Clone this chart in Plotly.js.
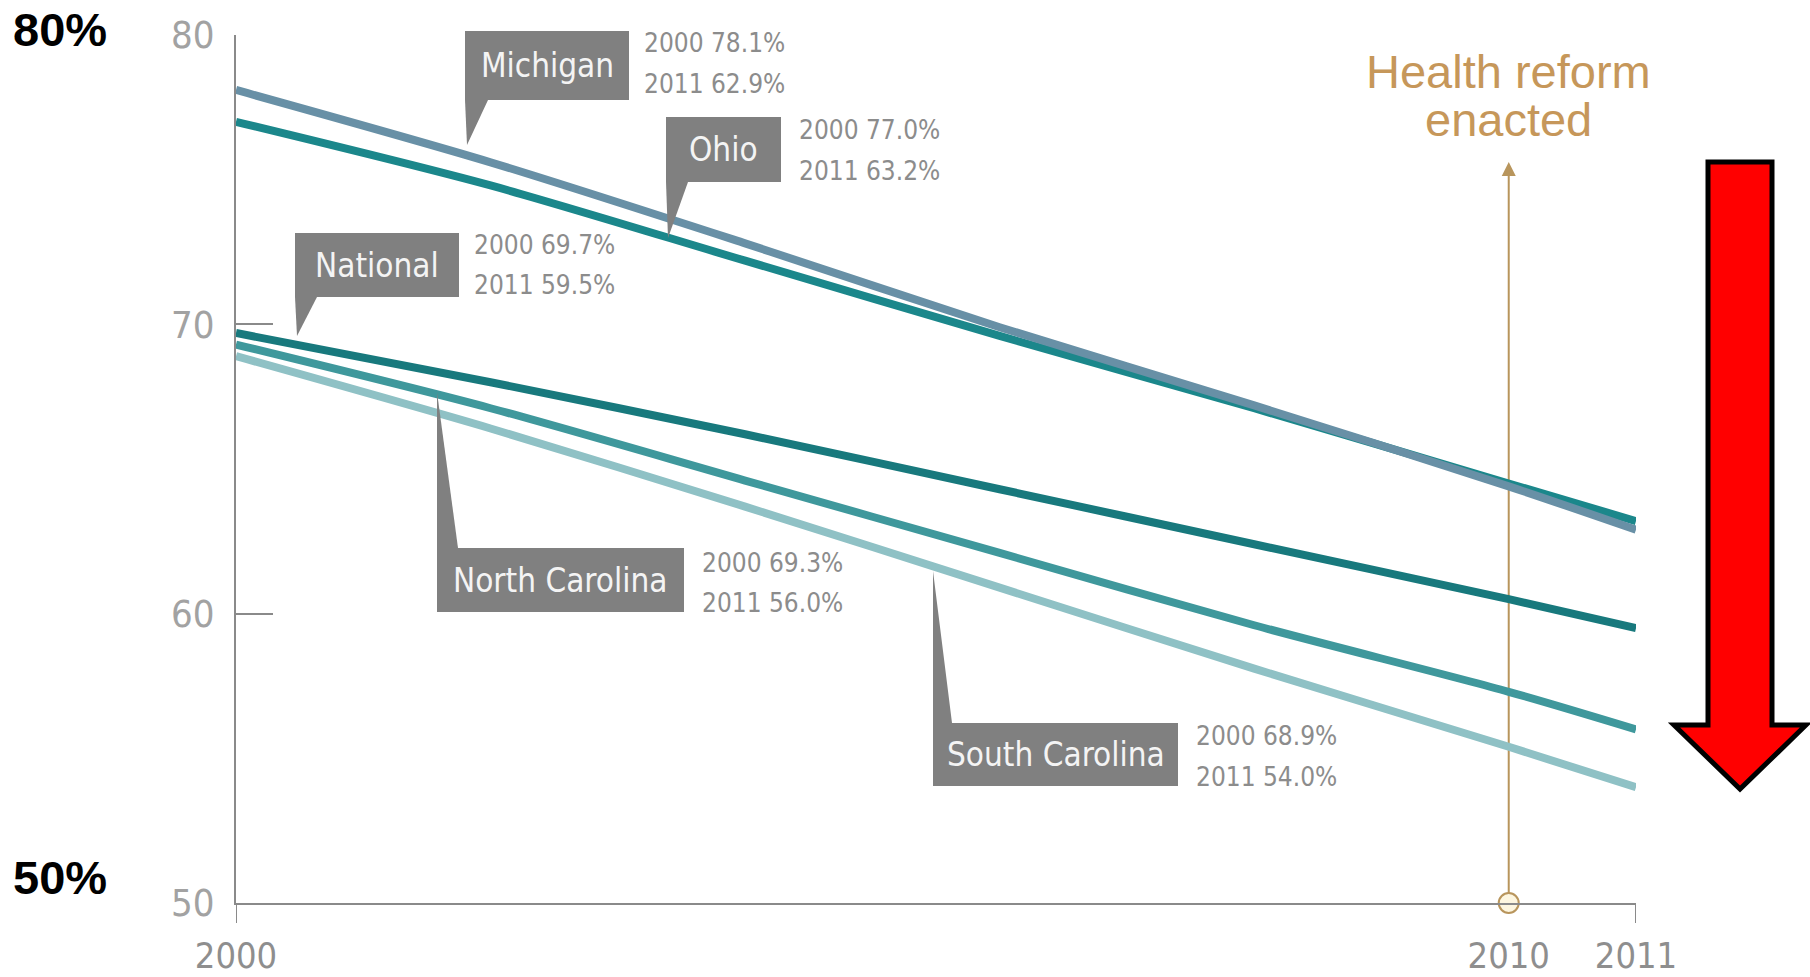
<!DOCTYPE html>
<html>
<head>
<meta charset="utf-8">
<script src="https://cdn.plot.ly/plotly-3.0.1.min.js"></script>
<style>
  html, body { margin: 0; padding: 0; background: #ffffff; }
  #chart { width: 1810px; height: 977px; }
</style>
</head>
<body>
<div id="chart"></div>
<script>
// ---------------- DATA ----------------
const years = [2000, 2002, 2004, 2006, 2008, 2010, 2011];
const seriesNames = ['Michigan', 'Ohio', 'National', 'North Carolina', 'South Carolina'];
const michigan      = [78.1, 75.6, 72.8, 69.9, 67.2, 64.4, 62.9];
const ohio          = [77.0, 74.8, 72.2, 69.6, 67.1, 64.5, 63.2];
const national      = [69.7, 68.0, 66.2, 64.3, 62.4, 60.5, 59.5];
const northCarolina = [69.3, 67.1, 64.6, 62.1, 59.6, 57.3, 56.0];
const southCarolina = [68.9, 66.4, 63.7, 60.9, 58.1, 55.4, 54.0];
const yTickVals = [50, 60, 70, 80];
const xTickVals = [2000, 2010, 2011];
const xTickText = ['2000', '2010', '2011'];
const reformYear = 2010;
const reformText = ['Health reform', 'enacted'];

// ---------------- LAYOUT HELPERS ----------------
const FW = 1810, FH = 977;
const M = { l: 236, r: 174, t: 35, b: 74 };
const PW = FW - M.l - M.r, PH = FH - M.t - M.b;
const px = x => (x - M.l) / PW;          // pixel -> paper x
const py = y => 1 - (y - M.t) / PH;      // pixel -> paper y

const NARROW = '"Liberation Sans Narrow", "DejaVu Sans Condensed", "Arial Narrow", sans-serif';
const SANS = '"Liberation Sans", Arial, sans-serif';

const seriesValues = [michigan, ohio, national, northCarolina, southCarolina];
const seriesColors = ['#6890a6', '#1b878b', '#18797d', '#3f989c', '#8fc1c5'];

// draw order: bottom first, Michigan on top
const drawOrder = [4, 3, 2, 1, 0];
const traces = drawOrder.map(i => ({
  type: 'scatter', mode: 'lines',
  x: years, y: seriesValues[i], name: seriesNames[i],
  line: { color: seriesColors[i], width: 8, shape: 'spline', smoothing: 0.8 },
  cliponaxis: false, hoverinfo: 'skip'
}));

// reform marker on the x axis
traces.push({
  type: 'scatter', mode: 'markers',
  x: [reformYear], y: [yTickVals[0]],
  marker: { size: 20, color: '#fdf6e0', line: { color: '#b8955c', width: 2 } },
  cliponaxis: false, hoverinfo: 'skip'
});

// callout boxes (pixel layout)
const callouts = [
  { s: 0, box: [465, 31, 629, 100], ptr: [[465, 100], [488, 100], [467, 145]], vx: 642, vy: [43, 84] },
  { s: 1, box: [666, 117, 781, 182], ptr: [[666, 182], [688, 182], [668, 238]], vx: 797, vy: [130, 171] },
  { s: 2, box: [295, 233, 459, 297], ptr: [[295, 297], [317, 297], [297, 336]], vx: 472, vy: [245, 285] },
  { s: 3, box: [437, 548, 684, 612], ptr: [[437, 548], [458, 548], [437, 392]], vx: 700, vy: [563, 603] },
  { s: 4, box: [933, 723, 1178, 786], ptr: [[933, 723], [952, 723], [933, 571]], vx: 1194, vy: [736, 777] }
];

const shapes = [];
const annotations = [];
const BOX = '#808080';

callouts.forEach(c => {
  const [x0, y0, x1, y1] = c.box;
  shapes.push({ type: 'rect', xref: 'paper', yref: 'paper',
    x0: px(x0), x1: px(x1), y0: py(y1), y1: py(y0),
    fillcolor: BOX, line: { width: 0 }, layer: 'above' });
  const p = c.ptr.map((q, k) => (k ? 'L' : 'M') + px(q[0]) + ',' + py(q[1])).join(' ') + ' Z';
  shapes.push({ type: 'path', xref: 'paper', yref: 'paper', path: p,
    fillcolor: BOX, line: { width: 0 }, layer: 'above' });
  annotations.push({ xref: 'paper', yref: 'paper', x: px((x0 + x1) / 2), y: py((y0 + y1) / 2),
    xanchor: 'center', yanchor: 'middle', showarrow: false,
    text: seriesNames[c.s], font: { family: NARROW, size: 33, color: '#f4f4f4' } });
  const vals = seriesValues[c.s];
  const n = years.length - 1;
  annotations.push({ xref: 'paper', yref: 'paper', x: px(c.vx), y: py(c.vy[0]),
    xanchor: 'left', yanchor: 'middle', showarrow: false,
    text: years[0] + ' ' + vals[0].toFixed(1) + '%', font: { family: NARROW, size: 26, color: '#8c8c8c' } });
  annotations.push({ xref: 'paper', yref: 'paper', x: px(c.vx), y: py(c.vy[1]),
    xanchor: 'left', yanchor: 'middle', showarrow: false,
    text: years[n] + ' ' + vals[n].toFixed(1) + '%', font: { family: NARROW, size: 26, color: '#8c8c8c' } });
});

// reform vertical line + arrowhead
const GOLD = '#b8955c';
shapes.push({ type: 'line', xref: 'x', yref: 'paper', x0: reformYear, x1: reformYear,
  y0: 0, y1: py(170), line: { color: GOLD, width: 2 }, layer: 'below' });
const ah = 7 / (PW / (xTickVals[2] - xTickVals[0]));
shapes.push({ type: 'path', xref: 'x', yref: 'paper',
  path: `M${reformYear - ah},${py(176)} L${reformYear},${py(162)} L${reformYear + ah},${py(176)} Z`,
  fillcolor: GOLD, line: { width: 0 } });
annotations.push({ xref: 'x', yref: 'paper', x: reformYear, y: py(71), showarrow: false,
  xanchor: 'center', yanchor: 'middle', text: reformText[0],
  font: { family: SANS, size: 47, color: '#c6975a' } });
annotations.push({ xref: 'x', yref: 'paper', x: reformYear, y: py(119), showarrow: false,
  xanchor: 'center', yanchor: 'middle', text: reformText[1],
  font: { family: SANS, size: 47, color: '#c6975a' } });

// small ticks below the x axis at first and last year
[xTickVals[0], xTickVals[2]].forEach(xv => {
  shapes.push({ type: 'line', xref: 'x', yref: 'paper', x0: xv, x1: xv,
    y0: 0, y1: py(923), line: { color: '#8a8a8a', width: 2 } });
});

// big red arrow
const arrowPts = [[1708, 162], [1772, 162], [1772, 725], [1806, 725], [1740, 789], [1674, 725], [1708, 725]];
shapes.push({ type: 'path', xref: 'paper', yref: 'paper',
  path: arrowPts.map((q, k) => (k ? 'L' : 'M') + px(q[0]) + ',' + py(q[1])).join(' ') + ' Z',
  fillcolor: '#ff0000', line: { color: '#000000', width: 5 } });

// 80% / 50% bold labels
annotations.push({ xref: 'paper', yref: 'paper', x: px(60), y: py(30), showarrow: false,
  xanchor: 'center', yanchor: 'middle', text: '<b>' + yTickVals[3] + '%</b>',
  font: { family: SANS, size: 47, color: '#000000' } });
annotations.push({ xref: 'paper', yref: 'paper', x: px(60), y: py(877), showarrow: false,
  xanchor: 'center', yanchor: 'middle', text: '<b>' + yTickVals[0] + '%</b>',
  font: { family: SANS, size: 47, color: '#000000' } });

const layout = {
  width: FW, height: FH,
  margin: M,
  paper_bgcolor: '#ffffff', plot_bgcolor: '#ffffff',
  showlegend: false,
  xaxis: {
    range: [xTickVals[0], xTickVals[2]],
    showgrid: false, zeroline: false,
    showline: true, linecolor: '#8a8a8a', linewidth: 2,
    tickvals: xTickVals, ticktext: xTickText, ticks: '',
    ticklabelstandoff: 20,
    tickfont: { family: NARROW, size: 36, color: '#8e8e8e' }
  },
  yaxis: {
    range: [yTickVals[0], yTickVals[3]],
    showgrid: false, zeroline: false,
    showline: true, linecolor: '#8a8a8a', linewidth: 2,
    tickvals: yTickVals, ticks: 'inside', ticklen: 37, tickwidth: 2, tickcolor: '#8a8a8a',
    ticklabelstandoff: 12,
    tickfont: { family: NARROW, size: 38, color: '#a2a2a2' }
  },
  shapes: shapes,
  annotations: annotations
};

Plotly.newPlot('chart', traces, layout, { staticPlot: true, displayModeBar: false });
</script>
</body>
</html>
